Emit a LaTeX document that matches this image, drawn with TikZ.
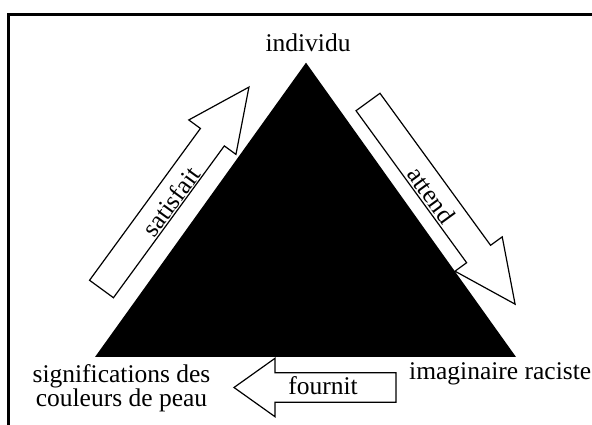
\documentclass[tikz,border=0pt]{standalone}
\usepackage{fontspec}
\setmainfont{Liberation Serif}
\usetikzlibrary{positioning}
\tikzset{
    labeltext/.style={font=\fontsize{25.5}{24}\selectfont, inner sep=0pt},
    arrowbox/.style={draw=black, fill=white, line width=1.2pt, line join=miter}
}
\begin{document}
\begin{tikzpicture}[x=1pt,y=1pt]
    \useasboundingbox (0,0) rectangle (592,425);

    % Frame (top and left edges)
    \draw[line width=2.7pt] (8.3,-5) -- (8.3,410.3) -- (600,410.3);

    % Black triangle
    \coordinate (apex) at (306,362.3);
    \coordinate (cornerL) at (95,68);
    \coordinate (cornerR) at (516,68);
    \fill[black] (apex) -- (cornerL) -- (cornerR) -- cycle;

    % Hollow block arrow along local x: #1 length, #2 head length
    \def\blockarrow#1#2{
        (0,-14.8) -- ({#1-#2},-14.8) -- ({#1-#2},-29.2) -- (#1,0) --
        ({#1-#2},29.2) -- ({#1-#2},14.8) -- (0,14.8) -- cycle
    }
    \draw[arrowbox,shift={(101.5,136)},rotate=53.86] \blockarrow{250}{62};
    \draw[arrowbox,shift={(368,323)},rotate=-53.96] \blockarrow{250}{62};
    \draw[arrowbox,shift={(396,37.5)},rotate=180] \blockarrow{162}{41};

    % Corner labels
    \node[labeltext, anchor=base] (individu) at (308,373) {individu};
    \node[labeltext, align=center, anchor=north] (couleurs) at (121.5,60.5)
        {significations des\\couleurs de peau};
    \node[labeltext, anchor=base west] (imaginaire) at (409,45) {imaginaire raciste};

    % Arrow labels
    \node[labeltext, rotate=53.86] (satisfait) at (171,223.5) {satisfait};
    \node[labeltext, rotate=-53.96] (attend) at (431.5,230) {attend};
    \node[labeltext, anchor=base] (fournit) at (323,30) {fournit};
\end{tikzpicture}
\end{document}
